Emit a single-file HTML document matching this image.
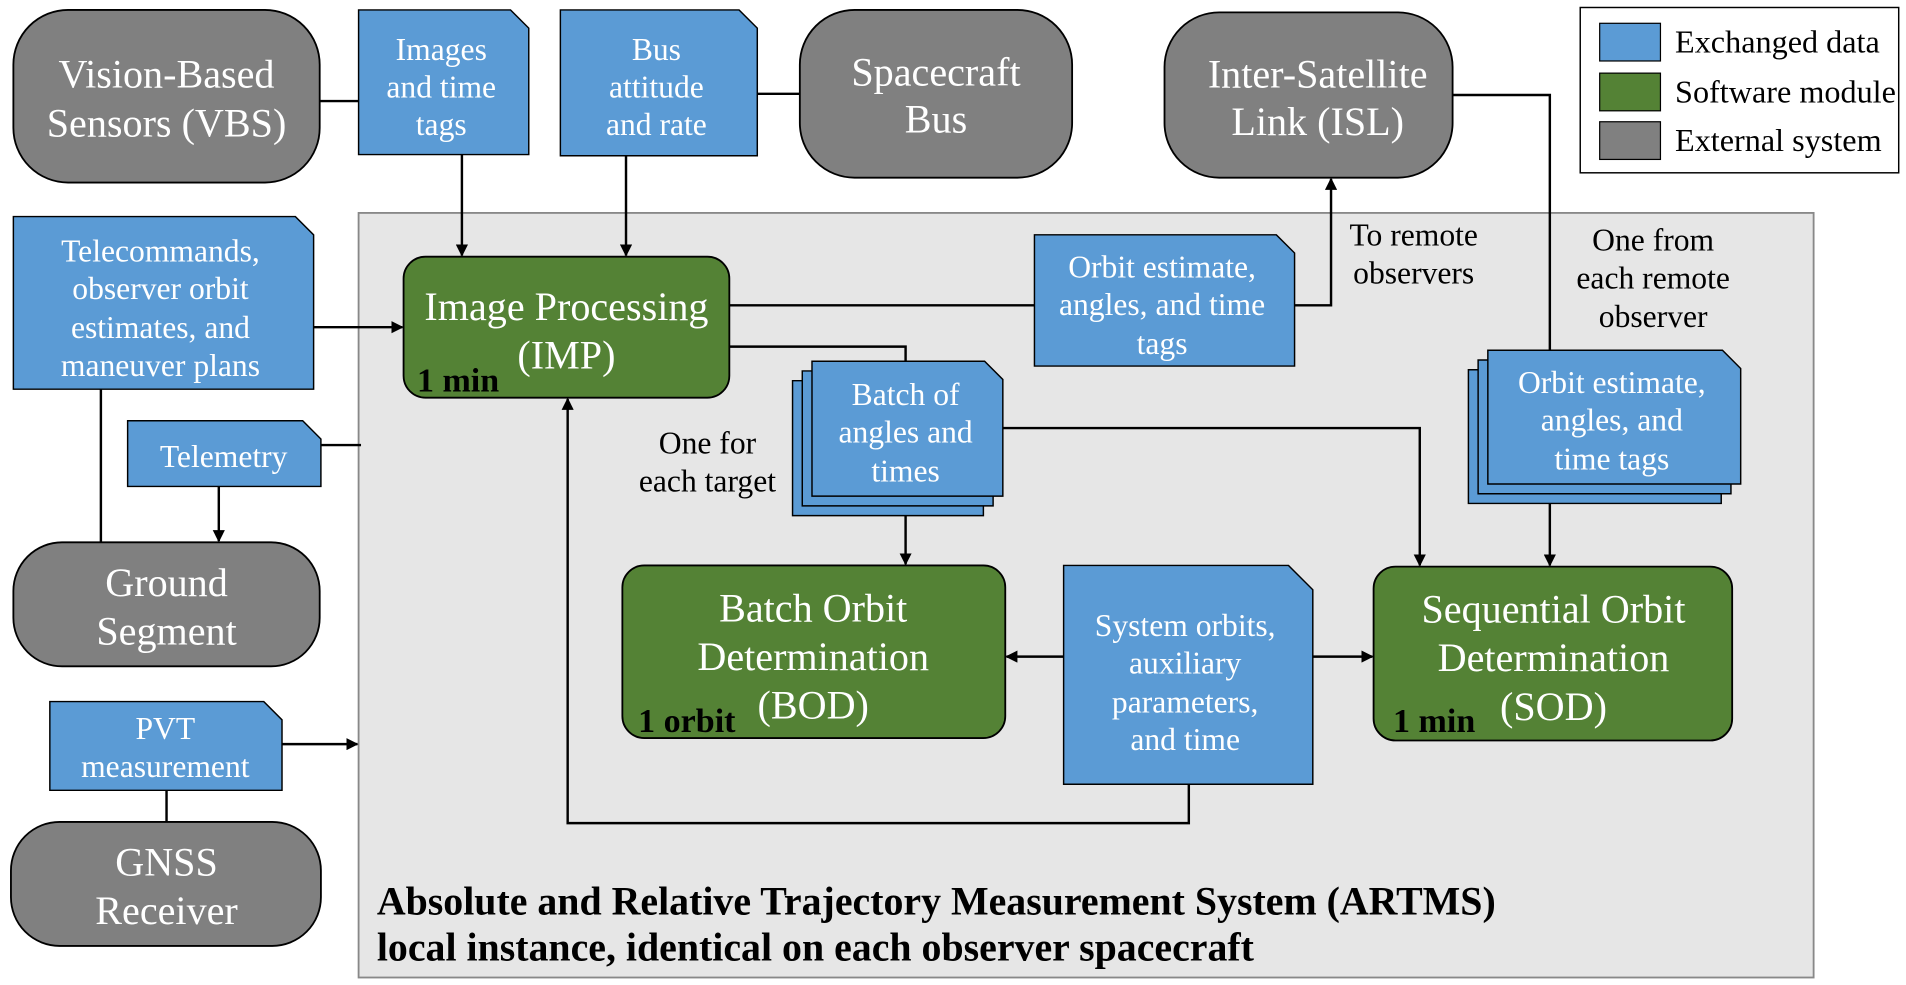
<!DOCTYPE html>
<html><head><meta charset="utf-8"><style>html,body{margin:0;padding:0;background:#fff}svg{display:block}</style></head>
<body>
<svg width="1906" height="985" viewBox="0 0 1568 810" xmlns="http://www.w3.org/2000/svg" font-family="Liberation Serif, serif">
<defs>
<marker id="a" markerWidth="10" markerHeight="10" refX="9" refY="5" orient="auto" markerUnits="userSpaceOnUse"><path d="M0,0 L10,5 L0,10 z" fill="#000"/></marker>
</defs>
<rect x="295" y="175" width="1197" height="629" fill="#e6e6e6" stroke="#888" stroke-width="1.5"/>
<g stroke="#000" stroke-width="2" fill="none">
<line x1="263" y1="83" x2="295" y2="83"/>
<line x1="380" y1="127" x2="380" y2="210" marker-end="url(#a)"/>
<line x1="515" y1="128" x2="515" y2="210" marker-end="url(#a)"/>
<line x1="658" y1="77" x2="623" y2="77"/>
<line x1="258" y1="269" x2="331" y2="269" marker-end="url(#a)"/>
<line x1="83" y1="320" x2="83" y2="446"/>
<line x1="264" y1="366" x2="297" y2="366"/>
<line x1="180" y1="400" x2="180" y2="445" marker-end="url(#a)"/>
<line x1="232" y1="612" x2="294" y2="612" marker-end="url(#a)"/>
<line x1="137" y1="650" x2="137" y2="676"/>
<line x1="600" y1="251" x2="851" y2="251"/>
<polyline points="1065,251 1095,251 1095,147" marker-end="url(#a)"/>
<polyline points="600,285 745,285 745,297"/>
<polyline points="825,352 1168,352 1168,465" marker-end="url(#a)"/>
<line x1="745" y1="408" x2="745" y2="464" marker-end="url(#a)"/>
<polyline points="1195,78 1275,78 1275,290"/>
<line x1="1275" y1="414" x2="1275" y2="465" marker-end="url(#a)"/>
<line x1="875" y1="540" x2="828" y2="540" marker-end="url(#a)"/>
<line x1="1080" y1="540" x2="1129" y2="540" marker-end="url(#a)"/>
<polyline points="978,645 978,677 467,677 467,328" marker-end="url(#a)"/>
</g>
<g stroke="#000" stroke-width="1.5">
<rect x="11" y="8" width="252" height="142" rx="45" fill="#808080"/>
<rect x="658" y="8" width="224" height="138" rx="45" fill="#808080"/>
<rect x="958" y="10" width="237" height="136" rx="45" fill="#808080"/>
<rect x="11" y="446" width="252" height="102" rx="40" fill="#808080"/>
<rect x="9" y="676" width="255" height="102" rx="40" fill="#808080"/>
<rect x="332" y="211" width="268" height="116" rx="18" fill="#548235"/>
<rect x="512" y="465" width="315" height="142" rx="18" fill="#548235"/>
<rect x="1130" y="466" width="295" height="143" rx="18" fill="#548235"/>
</g>
<g stroke="#000" stroke-width="1.2" fill="#5b9bd5">
<path d="M295,8 H420 L435,23 V127 H295 Z"/>
<path d="M461,8 H608 L623,23 V128 H461 Z"/>
<path d="M11,178 H243 L258,193 V320 H11 Z"/>
<path d="M105,346 H249 L264,361 V400 H105 Z"/>
<path d="M41,577 H217 L232,592 V650 H41 Z"/>
<path d="M851,193 H1050 L1065,208 V301 H851 Z"/>
<path d="M652,313 H794 L809,328 V424 H652 Z"/>
<path d="M660,305 H802 L817,320 V416 H660 Z"/>
<path d="M668,297 H810 L825,312 V408 H668 Z"/>
<path d="M1208,304 H1401 L1416,319 V414 H1208 Z"/>
<path d="M1216,296 H1409 L1424,311 V406 H1216 Z"/>
<path d="M1224,288 H1417 L1432,303 V398 H1224 Z"/>
<path d="M875,465 H1060 L1080,485 V645 H875 Z"/>
</g>
<rect x="1300" y="6" width="262" height="136" fill="#fff" stroke="#000" stroke-width="1.2"/>
<rect x="1316" y="19" width="50" height="31" fill="#5b9bd5" stroke="#000"/>
<rect x="1316" y="60" width="50" height="31" fill="#548235" stroke="#000"/>
<rect x="1316" y="100" width="50" height="31" fill="#808080" stroke="#000"/>
<g font-size="26.5" fill="#000">
<text x="1378" y="43">Exchanged data</text>
<text x="1378" y="84">Software module</text>
<text x="1378" y="124">External system</text>
</g>
<g fill="#fff" font-size="33" text-anchor="middle">
<text x="137" y="72">Vision-Based</text><text x="137" y="112">Sensors (VBS)</text>
<text x="770" y="70">Spacecraft</text><text x="770" y="109">Bus</text>
<text x="1084" y="72">Inter-Satellite</text><text x="1084" y="111">Link (ISL)</text>
<text x="137" y="490">Ground</text><text x="137" y="530">Segment</text>
<text x="137" y="720">GNSS</text><text x="137" y="760">Receiver</text>
<text x="466" y="263">Image Processing</text><text x="466" y="303">(IMP)</text>
<text x="669" y="511">Batch Orbit</text><text x="669" y="551">Determination</text><text x="669" y="591">(BOD)</text>
<text x="1278" y="512">Sequential Orbit</text><text x="1278" y="552">Determination</text><text x="1278" y="592">(SOD)</text>
</g>
<g fill="#000" font-size="28" font-weight="bold">
<text x="343" y="322">1 min</text>
<text x="525" y="602">1 orbit</text>
<text x="1146" y="602">1 min</text>
</g>
<g fill="#fff" font-size="26" text-anchor="middle">
<text x="363" y="49">Images</text><text x="363" y="80">and time</text><text x="363" y="111">tags</text>
<text x="540" y="49">Bus</text><text x="540" y="80">attitude</text><text x="540" y="111">and rate</text>
<text x="132" y="215">Telecommands,</text><text x="132" y="246">observer orbit</text><text x="132" y="278">estimates, and</text><text x="132" y="309">maneuver plans</text>
<text x="184" y="384">Telemetry</text>
<text x="136" y="608">PVT</text><text x="136" y="639">measurement</text>
<text x="956" y="228">Orbit estimate,</text><text x="956" y="259">angles, and time</text><text x="956" y="291">tags</text>
<text x="745" y="333">Batch of</text><text x="745" y="364">angles and</text><text x="745" y="396">times</text>
<text x="1326" y="323">Orbit estimate,</text><text x="1326" y="354">angles, and</text><text x="1326" y="386">time tags</text>
<text x="975" y="523">System orbits,</text><text x="975" y="554">auxiliary</text><text x="975" y="586">parameters,</text><text x="975" y="617">and time</text>
</g>
<g fill="#000" font-size="26" text-anchor="middle">
<text x="1163" y="202">To remote</text><text x="1163" y="233">observers</text>
<text x="1360" y="206">One from</text><text x="1360" y="237">each remote</text><text x="1360" y="269">observer</text>
<text x="582" y="373">One for</text><text x="582" y="404">each target</text>
</g>
<g fill="#000" font-size="32.8" font-weight="bold">
<text x="310" y="752">Absolute and Relative Trajectory Measurement System (ARTMS)</text>
<text x="310" y="790">local instance, identical on each observer spacecraft</text>
</g>
</svg>
</body></html>
